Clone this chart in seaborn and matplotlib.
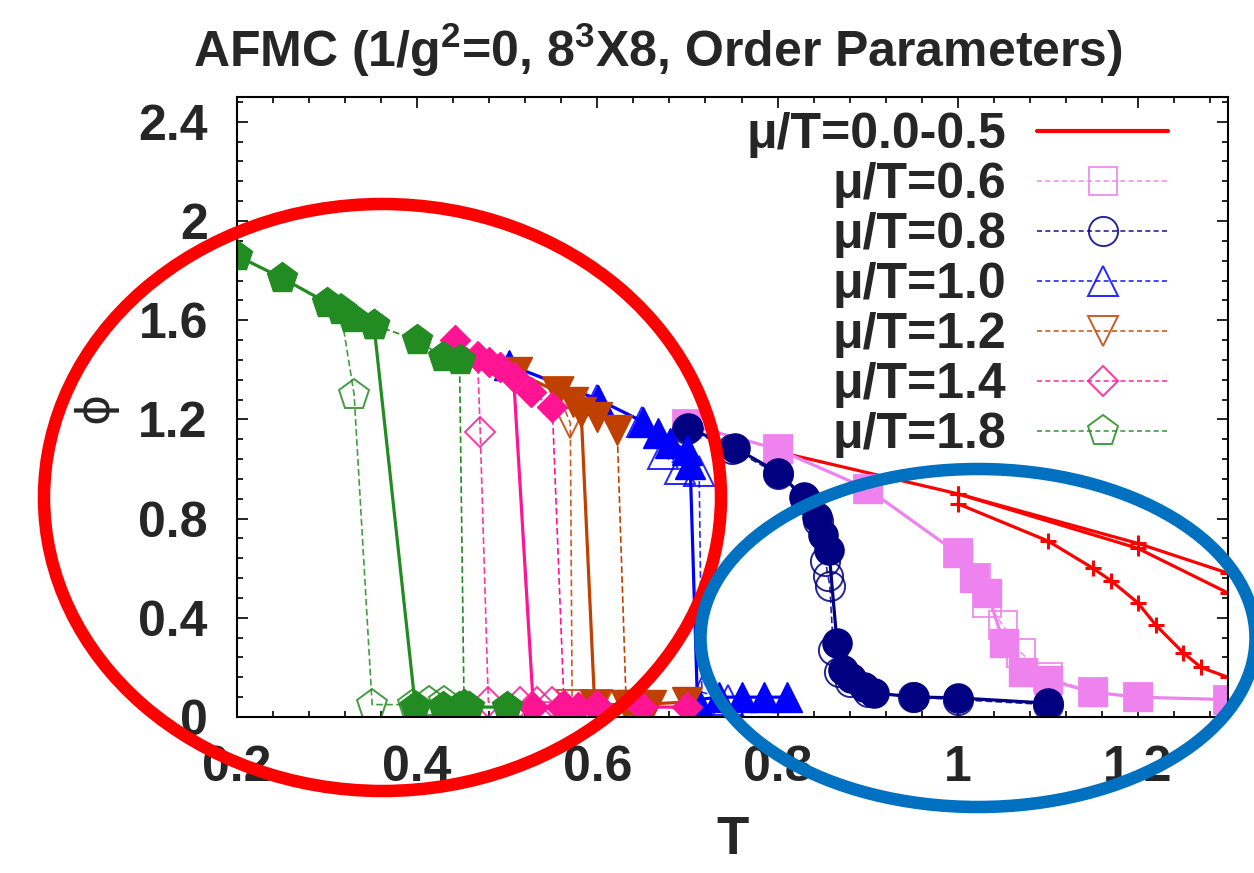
import matplotlib
matplotlib.use("Agg")
import matplotlib.pyplot as plt
from matplotlib.lines import Line2D
from matplotlib.patches import Ellipse
from matplotlib.ticker import MultipleLocator, FuncFormatter
import seaborn as sns

# mu/T = 0.0-0.5 (three runs, red)
red_T_a = [0.80, 1.00, 1.20, 1.30]
red_phi_a = [1.07, 0.90, 0.70, 0.58]
red_T_b = [1.00, 1.20, 1.30]
red_phi_b = [0.90, 0.68, 0.50]
red_T_c = [1.00, 1.10, 1.15, 1.17, 1.20, 1.22, 1.25, 1.27, 1.30]
red_phi_c = [0.86, 0.71, 0.60, 0.55, 0.46, 0.37, 0.26, 0.20, 0.16]

# mu/T = 0.6
vio_T = [0.70, 0.80, 0.90, 1.00, 1.018, 1.033, 1.051, 1.072, 1.10, 1.15, 1.20, 1.30]
vio_phi = [1.18, 1.08, 0.92, 0.66, 0.56, 0.50, 0.30, 0.18, 0.15, 0.10, 0.08, 0.07]
vio_T_open = [0.70, 0.80, 0.90, 1.00, 1.02, 1.033, 1.05, 1.07, 1.10, 1.15, 1.20, 1.30]
vio_phi_open = [1.18, 1.08, 0.92, 0.66, 0.56, 0.46, 0.37, 0.26, 0.16, 0.10, 0.08, 0.07]

# mu/T = 0.8
nav_T = [0.701, 0.753, 0.801, 0.829, 0.844, 0.851, 0.857, 0.866, 0.873, 0.881, 0.896, 0.907, 0.951, 1.00, 1.10]
nav_phi = [1.165, 1.085, 0.985, 0.887, 0.806, 0.735, 0.673, 0.30, 0.19, 0.157, 0.121, 0.097, 0.081, 0.077, 0.056]
nav_T_open = [0.70, 0.75, 0.80, 0.83, 0.845, 0.853, 0.856, 0.858, 0.862, 0.868, 0.88, 0.90, 0.95, 1.00, 1.10]
nav_phi_open = [1.16, 1.08, 0.98, 0.88, 0.79, 0.63, 0.57, 0.53, 0.27, 0.18, 0.14, 0.10, 0.08, 0.07, 0.05]

# mu/T = 1.0
blu_T = [0.502, 0.601, 0.651, 0.667, 0.681, 0.70, 0.703, 0.711, 0.735, 0.76, 0.785, 0.81]
blu_phi = [1.42, 1.28, 1.19, 1.145, 1.105, 1.077, 1.02, 0.07, 0.08, 0.08, 0.08, 0.08]
blu_T_open = [0.60, 0.65, 0.673, 0.692, 0.713, 0.716, 0.745]
blu_phi_open = [1.28, 1.19, 1.06, 1.00, 0.99, 0.10, 0.07]

# mu/T = 1.2
brn_T = [0.511, 0.556, 0.573, 0.582, 0.597, 0.64, 0.70]
brn_phi = [1.39, 1.31, 1.27, 1.23, 0.05, 0.05, 0.06]
brn_T_b = [0.60, 0.622, 0.632, 0.66]
brn_phi_b = [1.21, 1.157, 0.05, 0.05]
brn_T_open = [0.556, 0.57, 0.572, 0.60]
brn_phi_open = [1.31, 1.185, 0.05, 0.05]

# mu/T = 1.4
pnk_T = [0.442, 0.467, 0.48, 0.492, 0.507, 0.529, 0.56, 0.578, 0.597, 0.65, 0.70]
pnk_phi = [1.52, 1.45, 1.43, 1.41, 1.37, 0.04, 0.04, 0.04, 0.04, 0.04, 0.04]
pnk_T_b = [0.507, 0.526, 0.55, 0.563, 0.60]
pnk_phi_b = [1.37, 1.31, 1.25, 0.05, 0.05]
pnk_T_open = [0.467, 0.47, 0.479, 0.514, 0.533, 0.55]
pnk_phi_open = [1.45, 1.15, 0.06, 0.06, 0.06, 0.06]

# mu/T = 1.8
grn_T = [0.20, 0.25, 0.30, 0.315, 0.328, 0.352, 0.398, 0.429, 0.446, 0.50]
grn_phi = [1.86, 1.77, 1.67, 1.64, 1.61, 1.58, 0.04, 0.04, 0.04, 0.04]
grn_T_b = [0.352, 0.40, 0.429, 0.447, 0.452, 0.458]
grn_phi_b = [1.58, 1.52, 1.45, 1.44, 0.05, 0.04]
grn_T_open = [0.315, 0.33, 0.35, 0.395, 0.413, 0.43]
grn_phi_open = [1.64, 1.30, 0.05, 0.05, 0.06, 0.06]

labels = ["\u03bc/T=0.0-0.5", "\u03bc/T=0.6", "\u03bc/T=0.8", "\u03bc/T=1.0",
          "\u03bc/T=1.2", "\u03bc/T=1.4", "\u03bc/T=1.8"]
colors = ["#ff0000", "#ee82ee", "#000080", "#0000ff", "#c04000", "#ff1493", "#228b22"]
markers = ["+", "s", "o", "^", "v", "D", "p"]
msizes = [11, 20, 21, 21, 21, 15, 23]

sns.set_style("ticks")
plt.rcParams["font.family"] = ["Liberation Sans", "DejaVu Sans"]
plt.rcParams["mathtext.fontset"] = "custom"
plt.rcParams["mathtext.bf"] = "Liberation Sans:bold"
plt.rcParams["mathtext.rm"] = "Liberation Sans:bold"

fig = plt.figure(figsize=(12.54, 8.73), dpi=100)
ax = fig.add_axes([237 / 1254, 1 - 717 / 873, 991 / 1254, 620 / 873])


def draw(T, phi, i, filled=True, dashed=False):
    c = colors[i]
    sns.lineplot(x=T, y=phi, ax=ax, sort=False, estimator=None, legend=False,
                 color=c, marker=markers[i], markersize=msizes[i],
                 markerfacecolor=c if filled else "none", markeredgecolor=c,
                 markeredgewidth=1.0 if filled else 1.4,
                 linewidth=1.2 if dashed else 2.3,
                 linestyle=(0, (4, 2)) if dashed else "-",
                 alpha=0.85 if (dashed and not filled) else 1.0)


# red curves
for T, phi in [(red_T_a, red_phi_a), (red_T_b, red_phi_b), (red_T_c, red_phi_c)]:
    sns.lineplot(x=T, y=phi, ax=ax, sort=False, estimator=None, legend=False,
                 color=colors[0], marker="+", markersize=msizes[0],
                 markeredgewidth=2.2, markeredgecolor=colors[0], linewidth=2.3)

draw(vio_T_open, vio_phi_open, 1, filled=False, dashed=True)
draw(vio_T, vio_phi, 1)
draw(nav_T_open, nav_phi_open, 2, filled=False, dashed=True)
draw(nav_T, nav_phi, 2)
draw(blu_T_open, blu_phi_open, 3, filled=False, dashed=True)
draw(blu_T, blu_phi, 3)
draw(brn_T_open, brn_phi_open, 4, filled=False, dashed=True)
draw(brn_T_b, brn_phi_b, 4, dashed=True)
draw(brn_T, brn_phi, 4)
draw(pnk_T_open, pnk_phi_open, 5, filled=False, dashed=True)
draw(pnk_T_b, pnk_phi_b, 5, dashed=True)
draw(pnk_T, pnk_phi, 5)
draw(grn_T_open, grn_phi_open, 6, filled=False, dashed=True)
draw(grn_T_b, grn_phi_b, 6, dashed=True)
draw(grn_T, grn_phi, 6)

ax.set_xlim(0.2, 1.3)
ax.set_ylim(0, 2.5)
ax.xaxis.set_major_locator(MultipleLocator(0.2))
ax.xaxis.set_minor_locator(MultipleLocator(0.04))
ax.yaxis.set_major_locator(MultipleLocator(0.4))
ax.yaxis.set_minor_locator(MultipleLocator(0.08))
fmt = FuncFormatter(lambda v, p: "{:g}".format(round(v, 2)))
ax.xaxis.set_major_formatter(fmt)
ax.yaxis.set_major_formatter(fmt)
ax.tick_params(which="both", direction="in", top=True, right=True, width=1.2, color="black")
ax.tick_params(which="major", length=8)
ax.tick_params(which="minor", length=4)
ax.tick_params(axis="x", which="major", pad=20)
ax.tick_params(axis="y", which="major", pad=21)
for lab in ax.get_xticklabels() + ax.get_yticklabels():
    lab.set_fontsize(36)
    lab.set_fontweight("bold")
for sp in ax.spines.values():
    sp.set_linewidth(1.5)
    sp.set_color("black")

ax.set_xlabel("T", fontsize=38, fontweight="bold")
ax.xaxis.label.set_va("center")
ax.xaxis.set_label_coords(0.5, -0.198)
ax.set_ylabel("\u03d5", fontsize=34, family=["DejaVu Sans"])
ax.yaxis.label.set_va("center")
ax.yaxis.set_label_coords(-0.143, 0.5)

fig.text(0.525, 0.943, r"AFMC (1/g$^{\mathbf{2}}$=0, 8$^{\mathbf{3}}$X8, Order Parameters)",
         ha="center", va="center", fontsize=36, fontweight="bold")

# legend proxies
handles = [Line2D([], [], color=colors[0], lw=3)]
for i in range(1, 7):
    handles.append(Line2D([], [], color=colors[i], lw=1.2, ls=(0, (3, 2)), alpha=0.85,
                          marker=markers[i], markersize=msizes[i], markerfacecolor="none",
                          markeredgecolor=colors[i], markeredgewidth=1.4))
ax.legend(handles, labels, loc="upper right", bbox_to_anchor=(1168 / 1254, 1 - 112 / 873),
          bbox_transform=fig.transFigure, frameon=False, markerfirst=False,
          handlelength=2.62, handletextpad=0.62, labelspacing=0.08, borderpad=0,
          borderaxespad=0, prop={"family": "Liberation Sans", "weight": "bold", "size": 36})

# annotation ellipses
fig.add_artist(Ellipse((382.5 / 1254, 1 - 497.5 / 873), 677 / 1254, 587 / 873,
                       transform=fig.transFigure, fill=False, ec="#ff0000", lw=9, zorder=10))
fig.add_artist(Ellipse((978 / 1254, 1 - 638 / 873), 555 / 1254, 338 / 873,
                       transform=fig.transFigure, fill=False, ec="#0070c0", lw=9, zorder=10))

fig.savefig("out.png", dpi=100)
